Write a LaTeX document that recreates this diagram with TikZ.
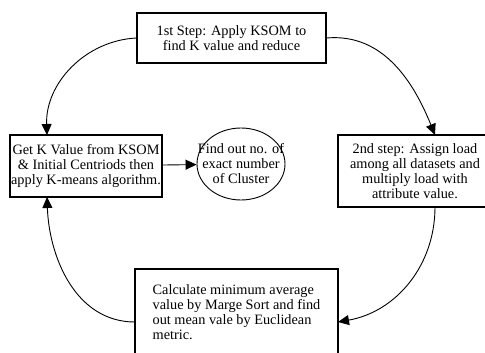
\documentclass[tikz,border=0pt]{standalone}
\usepackage{fontspec}
\setmainfont{Liberation Serif}
\usetikzlibrary{arrows.meta,shapes.geometric}

\tikzset{
  stepbox/.style={draw, line width=1.3pt, align=center, inner sep=1pt},
  link/.style={line width=0.9pt, -{Triangle[length=11pt,width=10pt]}},
}

\begin{document}
\begin{tikzpicture}[x=1pt,y=-1pt,font=\fontsize{14.3}{15}\selectfont]
    \useasboundingbox (0,0) rectangle (485,353);
    \begin{scope}
    \clip (0,0) rectangle (485,353);
    % the four steps
    \node[stepbox, minimum width=189pt, minimum height=50pt] (first) at (231.5,38)
        {1st Step: Apply KSOM to\\find K value and reduce};
    \node[stepbox, minimum width=154pt, minimum height=72pt] (second) at (415,171)
        {2nd step: Assign load\\among all datasets and\\multiply load with\\attribute value.};
    \node[stepbox, align=left, minimum width=203pt, minimum height=86pt] (third) at (236.5,312)
        {Calculate minimum average\\value by Marge Sort and find\\out mean vale by Euclidean\\metric.};
    \node[stepbox, minimum width=152pt, minimum height=62pt] (kmeans) at (86,166)
        {Get K Value from KSOM\\\& Initial Centriods then\\apply K-means algorithm.};
    \node[draw, ellipse, line width=0.9pt, align=center, inner xsep=-13pt, inner ysep=0pt,
          minimum width=88pt, minimum height=72pt] (cluster) at (241,164)
        {Find out no. of\\exact number\\of Cluster};
    % landing points of the curved arrows
    \coordinate (secondin) at (435,135);
    \coordinate (secondout) at (435,207);
    \coordinate (thirdin) at (338,322);
    \coordinate (thirdout) at (135,322);
    \coordinate (kmeanstop) at (47,135);
    \coordinate (kmeansbot) at (47,197);
    \draw[link] (first.east) to[out=5,in=112] (secondin);
    \draw[link] (secondout) to[out=-90,in=10] (thirdin);
    \draw[link] (thirdout) to[out=180,in=-88] (kmeansbot);
    \draw[link] (first.west) to[out=183,in=92] (kmeanstop);
    \draw[link] (kmeans) -- (cluster);
    \end{scope}
\end{tikzpicture}
\end{document}
